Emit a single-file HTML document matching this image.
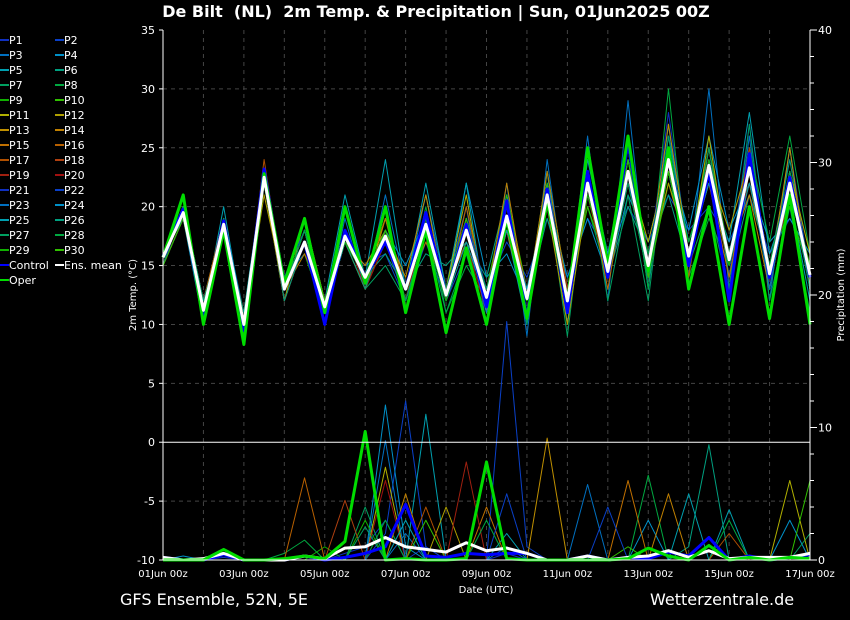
<!DOCTYPE html>
<html><head><meta charset="utf-8"><style>
body{margin:0;background:#000;width:850px;height:620px;overflow:hidden;font-family:"Liberation Sans","DejaVu Sans",sans-serif}
svg{display:block}
</style></head><body>
<svg id="chart" width="850" height="620" font-family="DejaVu Sans, Liberation Sans, sans-serif">
<rect width="850" height="620" fill="#000"/>
<text x="436" y="17" fill="#fff" font-size="16" font-weight="bold" text-anchor="middle" xml:space="preserve">De Bilt  (NL)  2m Temp. &amp; Precipitation | Sun, 01Jun2025 00Z</text>
<text x="120" y="605" fill="#fff" font-size="16">GFS Ensemble, 52N, 5E</text>
<text x="650" y="605" fill="#fff" font-size="16">Wetterzentrale.de</text>
<text transform="translate(136,295) rotate(-90)" fill="#fff" font-size="10" text-anchor="middle">2m Temp. (°C)</text>
<text transform="translate(844,295) rotate(-90)" fill="#fff" font-size="10" text-anchor="middle">Precipitation (mm)</text>
<text x="486" y="593" fill="#fff" font-size="10" text-anchor="middle">Date (UTC)</text>
<g id="grid"></g><g id="prec"></g><g id="temp"></g><g id="axes"></g><g id="legend"></g>
</svg>
<script>
const xLabels=["01Jun 00z","03Jun 00z","05Jun 00z","07Jun 00z","09Jun 00z","11Jun 00z","13Jun 00z","15Jun 00z","17Jun 00z"];
const tempTicks=[-10,-5,0,5,10,15,20,25,30,35];
const precTicks=[0,10,20,30,40];
const meanT=[15.7,19.5,11.2,18.5,10,22.5,13,17,11.5,17.5,14,17.5,13,18.5,12.5,18,12.3,19.2,12.2,21,12,22,14.5,23,15,24,15.8,23.5,15.5,23.3,14.3,22,14.2];
const controlT=[15.8,19.8,10.8,18.8,9.5,23.2,13,17,10,18,14,17,13,19.5,12.5,18.5,11.5,20.5,10.5,21.5,11,23,14,25.5,14.5,24.5,15,23,12,24.5,14,22.5,14];
const operT=[15.7,21,10,18,8.3,22.8,13.5,19,11,20,13.5,20,11,18,9.3,16.5,10,19,10.5,20.5,12,25,15,26,14.5,25,13,20,10,20,10.5,21,10];
const meanP=[0.2,0,0.1,0.5,0,0,0,0.3,0.1,0.9,1.0,1.7,1.0,0.8,0.6,1.3,0.7,0.9,0.5,0,0,0.3,0,0.2,0.3,0.7,0.2,0.7,0.1,0.2,0.2,0.2,0.5];
const controlP=[0.2,0,0,0.4,0,0,0,0.3,0,0.2,0.5,1.0,4.2,0.3,0.2,0.5,0.4,0.5,0.5,0,0,0.3,0,0.2,0.1,0.6,0.3,1.7,0,0.3,0,0.2,0.4];
const operP=[0,0,0,0.8,0,0,0.1,0.3,0.1,1.4,9.7,0,0.1,0,0,0.1,7.4,0.1,0,0,0,0,0,0.1,0.9,0.3,0,1.1,0,0.2,0,0.2,0.1];
const memT=[
[16,20,11,19,10,23,13,18,11,18,14,19,13,19,13,20,12,21,11,23,11,25,14,26,15,28,16,25,14,27,13,25,14],
[15,19,11,18,10,22,13,17,12,17,15,16,12,17,12,16,13,17,14,19,14,19,16,20,17,21,18,20,17,21,16,19,16],
[16,20,12,19,11,23,14,16,11,19,13,21,13,21,13,20,10,22,9,24,12,26,12,29,13,27,14,30,13,26,12,25,13],
[16,19,10,18,9,22,12,17,11,17,14,18,15,19,12,22,14,16,12,21,14,19,14,21,17,24,18,26,18,22,17,19,16],
[15,21,11,20,10,23,13,18,12,21,14,24,13,22,13,22,11,18,10,23,10,24,16,25,13,26,17,22,17,28,16,21,12],
[16,20,12,18,10,22,14,17,12,17,14,16,13,16,15,17,14,21,12,19,13,22,14,20,16,21,15,25,14,21,15,24,14],
[16,20,11,19,9,22,13,18,11,18,13,15,12,18,11,16,10,19,10,21,9,23,12,21,12,26,15,20,13,27,12,20,11],
[15,21,10,19,9,23,12,17,12,18,13,18,12,20,11,15,12,18,12,23,13,20,14,25,13,30,14,19,15,25,17,26,16],
[16,20,11,18,10,22,13,16,11,17,14,17,13,19,13,18,12,20,12,21,11,22,15,23,16,24,16,25,16,23,13,22,13],
[16,19,11,18,10,22,13,17,12,18,14,19,12,18,12,19,13,21,13,20,12,20,15,22,14,22,17,23,16,24,15,20,14],
[15,19,11,18,11,22,12,19,12,17,13,17,12,19,13,21,11,18,12,21,12,22,14,23,17,24,15,26,15,22,14,23,16],
[15,19,12,19,10,21,13,19,12,17,13,19,13,18,12,18,13,19,13,20,10,21,15,25,15,22,16,23,18,24,15,22,14],
[16,20,11,18,10,22,13,17,11,17,15,18,14,21,12,19,12,18,11,20,12,25,14,22,15,27,16,22,15,23,14,25,13],
[16,19,11,19,10,23,12,17,12,18,14,17,13,18,13,17,12,22,12,23,13,23,14,26,15,23,15,24,16,21,13,22,14],
[15,20,11,18,10,22,13,16,12,18,14,19,13,17,13,18,11,20,13,21,12,22,13,23,14,24,16,22,14,23,15,21,15],
[16,20,12,19,10,23,13,17,11,17,13,18,12,19,12,20,12,18,12,22,11,23,15,22,15,25,14,25,15,24,14,23,14],
[16,20,11,18,10,24,13,17,12,17,14,18,13,18,13,18,13,19,13,21,12,21,14,24,16,23,16,23,16,22,15,22,13],
[15,19,11,18,11,22,13,18,11,18,14,17,13,19,12,19,12,20,11,20,12,22,15,23,14,24,15,24,15,25,14,21,15],
[16,20,11,19,10,22,13,17,12,17,14,18,13,18,13,18,12,19,12,21,13,22,14,22,15,24,16,23,16,23,14,22,14],
[16,20,12,18,10,23,12,17,11,18,13,17,12,19,12,17,11,20,12,22,12,23,15,24,15,23,16,24,15,22,15,23,14],
[16,20,11,18,10,22,13,17,11,17,14,18,13,19,12,18,12,19,11,21,12,22,14,23,15,24,15,23,15,23,14,22,14],
[15,20,11,19,10,22,14,18,12,18,14,18,13,18,13,19,13,19,13,20,12,23,15,22,16,25,16,24,16,24,15,21,15],
[16,19,11,18,10,23,13,17,11,17,14,17,12,18,12,18,12,20,12,22,11,22,14,24,15,23,15,24,15,23,13,22,13],
[16,20,12,18,10,22,13,18,12,17,14,18,13,19,13,18,11,19,12,21,12,21,15,23,14,24,16,22,16,24,14,23,14],
[16,20,11,19,10,22,13,17,12,18,14,17,13,18,12,17,12,18,13,21,12,22,14,23,15,25,15,24,15,22,15,21,15],
[15,19,11,18,11,23,12,17,11,17,13,18,13,19,13,19,12,20,12,22,12,22,15,24,15,24,16,23,16,23,14,22,14],
[16,20,12,18,10,22,13,17,12,17,14,18,12,18,12,18,13,19,12,20,12,23,14,22,14,23,15,25,15,24,14,22,13],
[16,20,11,19,10,22,13,18,11,18,14,18,13,19,13,18,12,19,11,21,11,22,14,23,16,24,17,23,15,23,15,23,14],
[16,21,11,18,9,22,13,17,12,17,14,17,13,18,12,18,12,20,12,21,12,21,15,23,15,24,15,24,15,24,14,22,14],
[15,19,11,18,10,22,13,19,12,18,14,18,13,18,13,19,12,19,12,22,12,22,14,24,14,23,16,23,16,23,14,22,15]];
const memP=[
[0,0,0,0.2,0,0,0,0,0,0.5,1,3,0,1,0,0,0,0.5,0,0,0,0,0,0,0,0,0,0,0,0,0,0,0],
[0,0,0,0,0,0,0,0,0,0,0,2,12,1,0,0,0,18,1,0,0,0,0,0,0,0,0,0,0,0,0,0,0],
[0,0,0,0,0,0,0,0,0,0,0,0,2,0,0,0,0,1,0,0,0,5.7,0,0,0,0,0,0,0,0,0,0,0],
[0,0.3,0,0,0,0,0,0,0,0,0,11.7,1,0,0,0,0,0,0,0,0,0,0,0,3,0,0,0,0,0,0,3,0],
[0,0,0,0,0,0,0,0,0,0,0,0,0,11,0,0,0,2,0,0,0,0,0,0,0,0,0,0,3.8,0,0,0,0],
[0,0,0,0,0,0,0,0,0,0,0,0,0,0,0,0,0,0,0,0,0,0,0,0,0,0,1,8.7,0,0,0,0,0],
[0,0,0,0,0,0,0,0,0,0,4,0,0,0,0,0,0,0,0,0,0,0,0,0,0,0,0,0,0,0,0,0,2],
[0,0,0,0,0,0,0.5,1.5,0,0,0,3,0,0,0,0,0,0,0,0,0,0,0,0,6.4,0,0,0,3,0,0,0,0],
[0,0,0,0,0,0,0,0,1,0,3,0,0,0,0,0,0,0,0,0,0,0,0,0,0,0,0,0,0,0,0,0,0],
[0,0,0,0,0,0,0,0,0,0,0,0,0,3,0,0,0,0,0,0,0,0,0,1,0,0,0,0,0,0,0,0,0],
[0,0,0,0,0,0,0,0,0,0,0,7,0,0,0,0,0,0,0,0,0,0,0,0,0,0,0,0,0,0,0,6,0],
[0,0,0,0,0,0,0,0,0,0,0,0,0,0,4,0,0,0,0,0,0,0,0,0,0,0,0,0,0,0,0,0,0],
[0,0,0,0,0,0,0,0,0,0,0,0,0,0,0,0,0,0,0,9.2,0,0,0,0,0,0,0,0,0,0,0,0,0],
[0,0,0,0,0,0,0,0,0,0,0,0,5,0,0,0,0,0,0,0,0,0,0,0,0,5,0,0,0,0,0,0,0],
[0,0,0,0,0,0,0,0,0,0,0,0,0,0,0,0,4,0,0,0,0,0,0,6,0,0,0,0,0,0,0,0,0],
[0,0,0,0,0,0,0,6.2,0,0,0,0,0,0,0,0,0,0,0,0,0,0,0,0,0,0,0,0,0,0,0,0,0],
[0,0,0,0,0,0,0,0,0,0,0,0,0,4,0,0,0,0,0,0,0,0,0,0,0,0,0,0,2,0,0,0,0],
[0,0,0,0,0,0,0,0,0,4.5,0,0,0,0,0,0,0,0,0,0,0,0,0,0,0,0,0,0,0,0,0,0,0],
[0,0,0,0,0,0,0,0,0,0,0,0,0,0,0,7.4,0,0,0,0,0,0,0,0,0,0,0,0,0,0,0,0,0],
[0,0,0,0,0,0,0,0,0,0,0,6,0,0,0,0,0,0,0,0,0,0,0,0,0,0,0,0,0,0,0,0,0],
[0,0,0,0,0,0,0,0,0,0,0,0,0,0,0,0,0,0,0,0,0,0,0,0,0,0,0,0,0,0,0,0,0],
[0,0,0,0,0,0,0,0,0,0,0,0,0,0,0,0,0,5,0,0,0,0,4,0,0,0,0,0,0,0,0,0,0],
[0,0,0,0,0,0,0,0,0,0,0,9,0,0,0,0,0,0,0,0,0,0,0,0,0,0,0,0,0,0,0,0,0],
[0,0,0,0,0,0,0,0,0,0,0,0,0,0,0,0,0,0,0,0,0,0,0,0,0,0,0,0,0,0,0,0,0],
[0,0,0,0,0,0,0,0,0,0,0,0,3,0,0,0,0,0,0,0,0,0,0,0,0,0,5,0,0,0,0,0,0],
[0,0,0,0,0,0,0,0,0,0,0,0,0,0,0,0,0,0,0,0,0,0,0,0,0,0,0,0,0,0,0,0,0],
[0,0,0,0,0,0,0,0,0,0,2.5,0,0,0,0,0,0,0,0,0,0,0,0,0,0,0,0,0,0,0,0,0,0],
[0,0,0,0,0,0,0,0,0,0,0,0,0,0,0,0,3,0,0,0,0,0,0,0,0,0,0,0,0,0,0,0,0],
[0,0,0,0,0,0,0,0,0,0,0,0,0,0,0,0,0,0,0,0,0,0,0,0,0,0,0,0,0,0,0,0,0],
[0,0,0,0,0,0,0,0,0,0,0,0,0,0,0,0,0,0,0,0,0,0,0,0,0,0,0,0,0,0,0,0,6]];
const memColors=["#1030c0","#0a40c8","#0070c0","#0090c8","#00a0b0","#00a080","#00a060","#00a840","#10b000","#30c000","#b0b000","#b0a000","#c09000","#c08000","#c07000","#b86000","#b05000","#b04010","#a02010","#a01010"];
const X0=163,X1=810,Y0=30,Y1=560;
const xs=i=>X0+(X1-X0)*i/32;
const yT=t=>Y1-(t+10)*(Y1-Y0)/45;
const yP=p=>Y1-p*(Y1-Y0)/40;
const NS="http://www.w3.org/2000/svg";
function mk(tag,attrs,parent){const e=document.createElementNS(NS,tag);for(const k in attrs)e.setAttribute(k,attrs[k]);parent.appendChild(e);return e;}
const grid=document.getElementById('grid'),axes=document.getElementById('axes'),prec=document.getElementById('prec'),temp=document.getElementById('temp'),leg=document.getElementById('legend');
for(let d=1;d<16;d++){const x=X0+(X1-X0)*d/16;const l=mk('line',{x1:x,x2:x,y1:Y0,y2:Y1,stroke:'#444','stroke-dasharray':'4,4'},grid);

}
tempTicks.forEach(t=>{const y=yT(t);
if(t!==-10&&t!==0&&t!==35){const l=mk('line',{x1:X0,x2:X1,y1:y,y2:y,stroke:'#444','stroke-dasharray':'4,4'},grid);

}
const tx=mk('text',{x:155,y:y+4,fill:'#fff','font-size':11,'text-anchor':'end'},axes);tx.textContent=t;


mk('line',{x1:X0-4,x2:X0,y1:y,y2:y,stroke:'#fff'},axes);});
precTicks.forEach(p=>{const y=yP(p);
const tx=mk('text',{x:818,y:y+4,fill:'#fff','font-size':11},axes);tx.textContent=p;

});
for(let p=0;p<=40;p+=2){const y=yP(p);mk('line',{x1:X1,x2:X1+(p%10?4:7),y1:y,y2:y,stroke:'#fff'},axes);}
xLabels.forEach((s,i)=>{const x=X0+(X1-X0)*i/8;
const tx=mk('text',{x:x,y:577,fill:'#fff','font-size':10,'text-anchor':'middle'},axes);tx.textContent=s;

});
const fr=mk('path',{d:`M${X0},${Y0}V${Y1}H${X1}V${Y0}`,stroke:'#fff',fill:'none'},axes);


const zl=mk('line',{x1:X0,x2:X1,y1:yT(0),y2:yT(0),stroke:'#fff'},axes);


function poly(arr,f,color,w,parent){return mk('polyline',{points:arr.map((v,i)=>xs(i)+','+f(v)).join(' '),fill:'none',stroke:color,'stroke-width':w,'stroke-linejoin':'round'},parent);}
memP.forEach((a,i)=>{const p=poly(a,yP,memColors[i%20],1,prec);

});
let e;
e=poly(controlP,yP,'#0000ff',3,prec);


e=poly(meanP,yP,'#ffffff',3,prec);


e=poly(operP,yP,'#00dd00',3,prec);


memT.forEach((a,i)=>{const p=poly(a,yT,memColors[i%20],1,temp);

});
e=poly(controlT,yT,'#0000ff',3,temp);


e=poly(operT,yT,'#00dd00',3,temp);


e=poly(meanT,yT,'#ffffff',3,temp);


const legNames=[];for(let i=1;i<=30;i++)legNames.push('P'+i);
const legAll=legNames.concat(['Control','Ens. mean','Oper']);
const legCols=memColors.concat(memColors.slice(0,10)).concat(['#0000ff','#ffffff','#00dd00']);
legAll.forEach((n,i)=>{const col=i%2,row=Math.floor(i/2);const x=col?55:0,y=40+row*15;
const g=mk('g',{},leg);


mk('line',{x1:x,x2:x+9,y1:y,y2:y,stroke:legCols[i],'stroke-width':2},g);
const t=mk('text',{x:x+9,y:y+4,fill:'#fff','font-size':11},g);t.textContent=n;});
</script>
</body></html>
